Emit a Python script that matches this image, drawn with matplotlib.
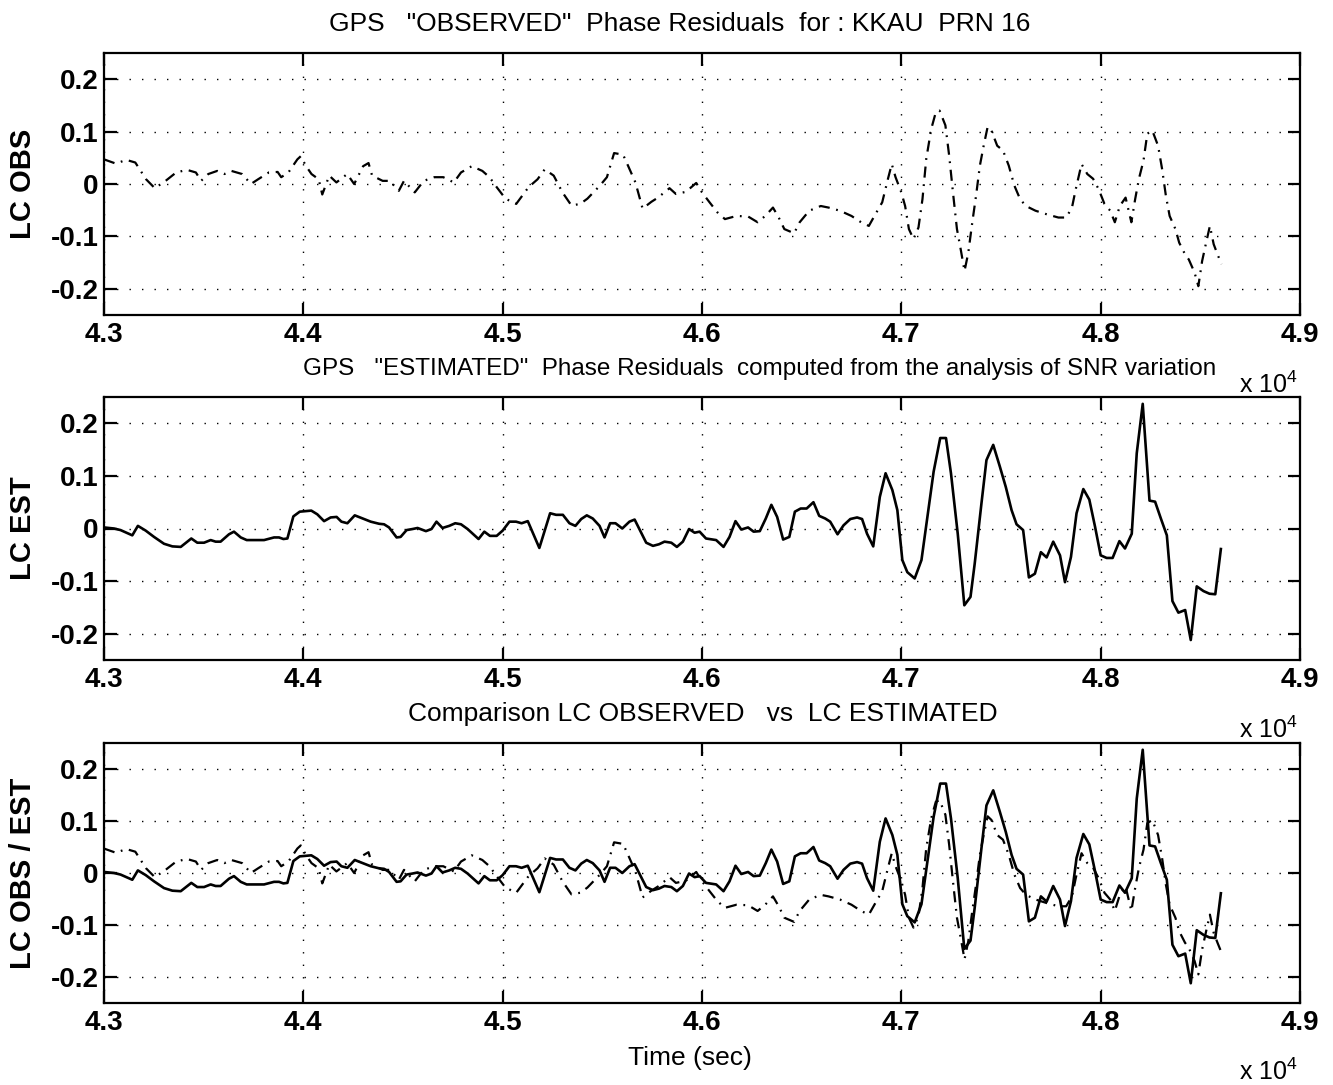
import matplotlib
matplotlib.use("Agg")
import matplotlib.pyplot as plt

plt.rcParams['font.family'] = ['Liberation Sans Narrow', 'Liberation Sans', 'DejaVu Sans']
plt.rcParams['mathtext.default'] = 'regular'

# LC EST (solid), time in seconds
t_est = [43000, 43050, 43083, 43142, 43170, 43209, 43251, 43301, 43343, 43385,
         43438, 43468, 43502, 43535, 43560, 43585, 43627, 43652, 43686, 43716,
         43744, 43803, 43853, 43878, 43900, 43920, 43950, 43982, 44040, 44070,
         44104, 44137, 44167, 44191, 44221, 44258, 44304, 44338, 44380, 44405,
         44430, 44468, 44488, 44518, 44548, 44573, 44615, 44643, 44668, 44698,
         44732, 44762, 44791, 44824, 44879, 44908, 44936, 44970, 45000, 45034,
         45067, 45095, 45126, 45184, 45238, 45268, 45302, 45335, 45365, 45394,
         45422, 45452, 45486, 45511, 45539, 45566, 45600, 45636, 45662, 45720,
         45754, 45784, 45812, 45846, 45874, 45904, 45935, 45963, 45988, 46020,
         46071, 46108, 46138, 46168, 46197, 46231, 46259, 46290, 46320, 46348,
         46377, 46407, 46438, 46466, 46495, 46525, 46559, 46588, 46618, 46643,
         46680, 46710, 46744, 46778, 46803, 46828, 46859, 46892, 46921, 46955,
         46980, 47005, 47030, 47067, 47101, 47131, 47162, 47195, 47224, 47249,
         47283, 47316, 47347, 47368, 47402, 47427, 47461, 47494, 47524, 47553,
         47578, 47611, 47640, 47670, 47700, 47729, 47762, 47796, 47821, 47851,
         47879, 47913, 47943, 47972, 48000, 48030, 48060, 48094, 48122, 48156,
         48181, 48211, 48245, 48273, 48302, 48332, 48360, 48390, 48424, 48452,
         48482, 48516, 48546, 48575, 48603]
lc_est = [0.002, 0.000, -0.003, -0.013, 0.005, -0.004, -0.016, -0.029, -0.034, -0.035,
          -0.019, -0.027, -0.027, -0.022, -0.025, -0.025, -0.011, -0.006, -0.017, -0.022,
          -0.022, -0.022, -0.017, -0.017, -0.020, -0.019, 0.023, 0.032, 0.034, 0.027,
          0.014, 0.021, 0.022, 0.013, 0.010, 0.025, 0.018, 0.013, 0.009, 0.008,
          0.002, -0.017, -0.016, -0.003, -0.001, 0.001, -0.005, -0.001, 0.013, 0.001,
          0.005, 0.010, 0.008, -0.001, -0.020, -0.006, -0.014, -0.014, -0.004, 0.013,
          0.013, 0.010, 0.014, -0.037, 0.029, 0.026, 0.026, 0.010, 0.005, 0.018,
          0.025, 0.019, 0.005, -0.017, 0.010, 0.010, 0.000, 0.013, 0.017, -0.027,
          -0.033, -0.030, -0.025, -0.027, -0.035, -0.025, -0.001, -0.008, -0.006, -0.019,
          -0.022, -0.035, -0.016, 0.014, -0.002, 0.002, -0.006, -0.005, 0.019, 0.045,
          0.022, -0.021, -0.016, 0.032, 0.038, 0.038, 0.050, 0.024, 0.019, 0.013,
          -0.011, 0.006, 0.018, 0.021, 0.018, -0.010, -0.034, 0.060, 0.105, 0.073,
          0.035, -0.060, -0.083, -0.095, -0.060, 0.022, 0.108, 0.172, 0.172, 0.105,
          -0.010, -0.146, -0.130, -0.067, 0.048, 0.130, 0.159, 0.118, 0.079, 0.035,
          0.008, -0.003, -0.093, -0.086, -0.045, -0.055, -0.025, -0.051, -0.102, -0.054,
          0.029, 0.075, 0.055, 0.003, -0.051, -0.056, -0.056, -0.024, -0.038, -0.010,
          0.143, 0.237, 0.053, 0.051, 0.019, -0.013, -0.138, -0.160, -0.155, -0.212,
          -0.110, -0.119, -0.124, -0.125, -0.039]

# LC OBS (dash-dot)
t_obs = [43000, 43059, 43112, 43157, 43211, 43255, 43309, 43362, 43416, 43461,
         43487, 43523, 43568, 43604, 43639, 43693, 43737, 43773, 43827, 43871,
         43889, 43925, 43970, 43987, 44014, 44041, 44077, 44095, 44130, 44166,
         44220, 44255, 44300, 44327, 44345, 44398, 44434, 44479, 44505, 44559,
         44604, 44657, 44702, 44755, 44791, 44845, 44898, 44934, 44970, 45014,
         45068, 45130, 45175, 45211, 45256, 45300, 45345, 45389, 45425, 45488,
         45523, 45559, 45604, 45630, 45666, 45702, 45746, 45779, 45837, 45869,
         45919, 45971, 46000, 46038, 46077, 46115, 46173, 46231, 46279, 46317,
         46356, 46385, 46413, 46462, 46490, 46538, 46596, 46635, 46692, 46750,
         46798, 46837, 46865, 46904, 46933, 46952, 46971, 47000, 47019, 47038,
         47061, 47086, 47106, 47125, 47150, 47173, 47192, 47221, 47240, 47259,
         47279, 47298, 47317, 47336, 47356, 47375, 47394, 47413, 47433, 47452,
         47481, 47510, 47539, 47567, 47596, 47625, 47673, 47731, 47788, 47827,
         47856, 47875, 47904, 47933, 47962, 47990, 48019, 48048, 48071, 48096,
         48125, 48154, 48173, 48192, 48215, 48234, 48259, 48288, 48308, 48327,
         48346, 48375, 48394, 48423, 48442, 48471, 48490, 48509, 48529, 48548,
         48567, 48586, 48606]
lc_obs = [0.047, 0.039, 0.046, 0.041, 0.009, -0.008, 0.006, 0.022, 0.027, 0.022,
          0.006, 0.019, 0.025, 0.019, 0.025, 0.019, 0.000, 0.009, 0.022, 0.023,
          0.013, 0.022, 0.047, 0.053, 0.034, 0.019, 0.009, -0.020, 0.016, 0.003,
          0.019, 0.000, 0.034, 0.040, 0.016, 0.006, 0.006, -0.013, 0.006, -0.016,
          0.006, 0.013, 0.013, 0.003, 0.022, 0.034, 0.025, 0.013, -0.006, -0.028,
          -0.038, -0.006, 0.009, 0.028, 0.016, -0.016, -0.041, -0.038, -0.028, -0.003,
          0.013, 0.059, 0.056, 0.034, 0.003, -0.047, -0.034, -0.026, -0.008, -0.019,
          -0.015, 0.002, -0.016, -0.035, -0.054, -0.067, -0.061, -0.062, -0.073, -0.061,
          -0.045, -0.064, -0.086, -0.094, -0.073, -0.051, -0.042, -0.045, -0.051, -0.061,
          -0.073, -0.080, -0.061, -0.035, 0.010, 0.038, 0.013, -0.016, -0.042, -0.086,
          -0.105, -0.083, -0.029, 0.048, 0.105, 0.137, 0.140, 0.112, 0.054, -0.016,
          -0.086, -0.125, -0.166, -0.131, -0.073, -0.022, 0.035, 0.073, 0.109, 0.102,
          0.073, 0.064, 0.035, -0.003, -0.029, -0.042, -0.051, -0.058, -0.064, -0.064,
          -0.045, -0.010, 0.038, 0.019, 0.010, -0.010, -0.038, -0.051, -0.073, -0.042,
          -0.026, -0.073, -0.029, 0.010, 0.045, 0.096, 0.102, 0.073, 0.029, -0.022,
          -0.061, -0.086, -0.112, -0.134, -0.144, -0.169, -0.195, -0.147, -0.112, -0.080,
          -0.115, -0.134, -0.153]

x_ticks = [43000, 44000, 45000, 46000, 47000, 48000, 49000]
x_ticklabels = ['4.3', '4.4', '4.5', '4.6', '4.7', '4.8', '4.9']
y_ticks = [-0.2, -0.1, 0, 0.1, 0.2]
y_ticklabels = ['-0.2', '-0.1', '0', '0.1', '0.2']

titles = ['GPS   "OBSERVED"  Phase Residuals  for : KKAU  PRN 16',
          'GPS   "ESTIMATED"  Phase Residuals  computed from the analysis of SNR variation',
          'Comparison LC OBSERVED   vs  LC ESTIMATED']
title_x = [0.481, 0.548, 0.501]
title_size = [19, 17.5, 19]
ylabels = ['LC OBS', 'LC EST', 'LC OBS / EST']

W, H = 1333, 1085
fig = plt.figure(figsize=(W / 100, H / 100), dpi=100)
rects = [(104, 53, 1300, 315), (104, 397, 1300, 660), (104, 743, 1300, 1003)]

obs_style = dict(color='black', lw=1.6, dashes=(5, 3, 0.8, 3))
est_style = dict(color='black', lw=1.9, linestyle='-')

for i, (l, t, r, b) in enumerate(rects):
    ax = fig.add_axes([l / W, 1 - b / H, (r - l) / W, (b - t) / H])
    if i == 0:
        ax.plot(t_obs, lc_obs, **obs_style)
    elif i == 1:
        ax.plot(t_est, lc_est, **est_style)
    else:
        ax.plot(t_est, lc_est, **est_style)
        ax.plot(t_obs, lc_obs, **obs_style)

    ax.set_xlim(43000, 49000)
    ax.set_ylim(-0.25, 0.25)
    ax.set_xticks(x_ticks)
    ax.set_xticklabels(x_ticklabels, fontsize=20, fontweight='bold')
    ax.set_yticks(y_ticks)
    ax.set_yticklabels(y_ticklabels, fontsize=20, fontweight='bold')
    ax.tick_params(direction='in', length=9, width=1.6, top=True, right=True, pad=4)
    ax.tick_params(axis='x', pad=5)
    for s in ax.spines.values():
        s.set_linewidth(1.6)
    ax.grid(True, color='black', linestyle=(0, (1, 8)), linewidth=1.0)

    ax.set_title(titles[i], fontsize=title_size[i], x=title_x[i], pad=16)
    ax.set_ylabel(ylabels[i], fontsize=21, fontweight='bold')
    ax.yaxis.set_label_coords(-0.056, 0.5)
    ax.text(0.998, -0.265, r'x 10$^4$', transform=ax.transAxes,
            ha='right', va='center', fontsize=18)
    if i == 2:
        ax.set_xlabel('Time (sec)', fontsize=19)
        ax.xaxis.set_label_coords(0.49, -0.165)

fig.savefig('out.png', dpi=100)
